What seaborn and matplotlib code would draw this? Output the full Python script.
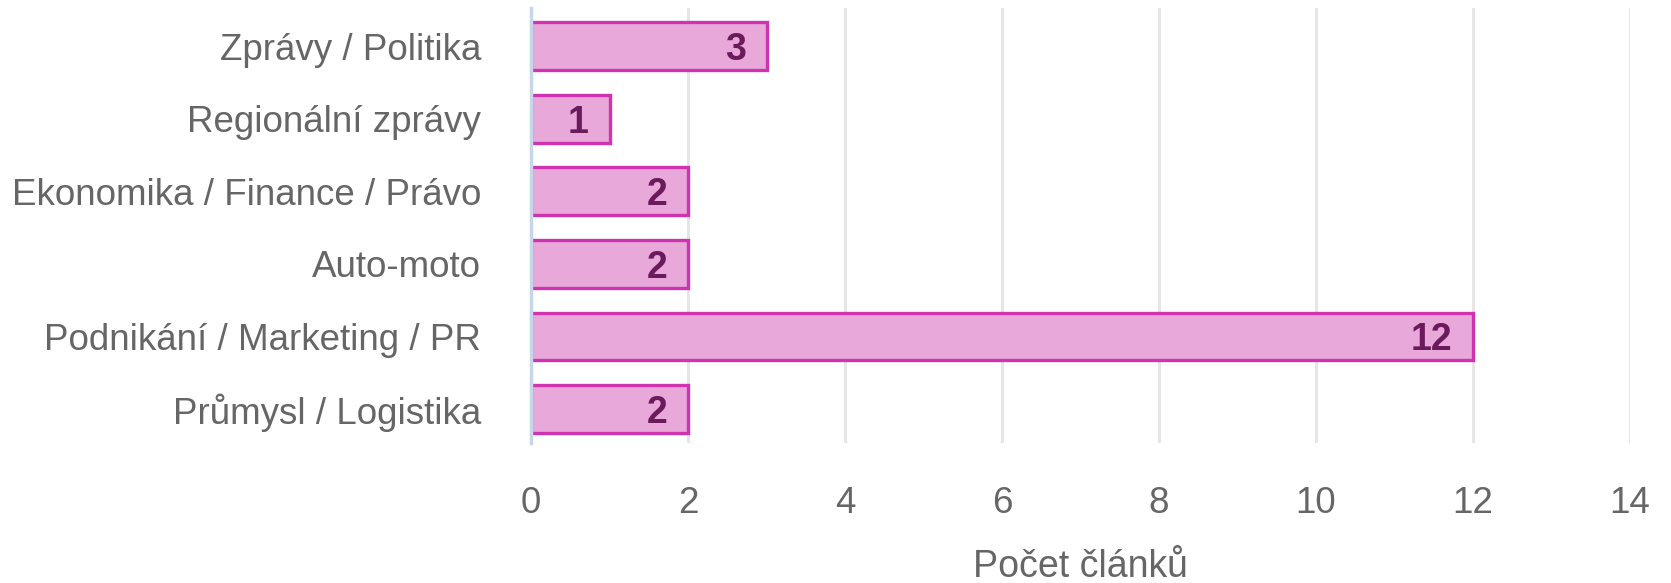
import pandas as pd
import matplotlib.pyplot as plt
import seaborn as sns

# data
categories = ['Zprávy / Politika', 'Regionální zprávy', 'Ekonomika / Finance / Právo',
              'Auto-moto', 'Podnikání / Marketing / PR', 'Průmysl / Logistika']
counts = [3, 1, 2, 2, 12, 2]
x_ticks = [0, 2, 4, 6, 8, 10, 12, 14]

df = pd.DataFrame({'Kategorie': categories, 'Počet': counts})

sns.set_theme(style='white')
plt.rcParams['font.family'] = ['Liberation Sans', 'DejaVu Sans']

fig = plt.figure(figsize=(16.71, 5.83), dpi=100)
ax = fig.add_axes([0.3178, 0.2401, 0.9755 - 0.3178, 0.9863 - 0.2401])

sns.barplot(data=df, x='Počet', y='Kategorie', orient='h', width=0.66,
            color='#E8A8DA', edgecolor='#D033B0', linewidth=2.4,
            saturation=1, ax=ax, zorder=3)

# value labels inside the bar end
for i, v in enumerate(counts):
    ax.annotate(str(v), xy=(v, i), xytext=(-15, 0), textcoords='offset points',
                ha='right', va='center_baseline', fontsize=27, fontweight='bold',
                color='#6B1A5B', zorder=4)

ax.set_xlim(0, 14)
ax.set_ylim(5.47, -0.53)
ax.set_xticks(x_ticks)
ax.grid(axis='x', color='#E6E6E6', linewidth=2.2, zorder=0)
ax.grid(axis='y', visible=False)
for s in ['top', 'right', 'bottom']:
    ax.spines[s].set_visible(False)
ax.spines['left'].set_color('#C8D6EA')
ax.spines['left'].set_linewidth(2.5)
ax.spines['left'].set_zorder(5)

ax.tick_params(axis='y', length=0, pad=36, labelsize=26.5, labelcolor='#666666')
ax.tick_params(axis='x', length=0, pad=31, labelsize=26.5, labelcolor='#666666')
ax.set_ylabel('')
ax.set_xlabel('Počet článků', fontsize=27, color='#666666', labelpad=20)

plt.savefig('out.png', dpi=100)
